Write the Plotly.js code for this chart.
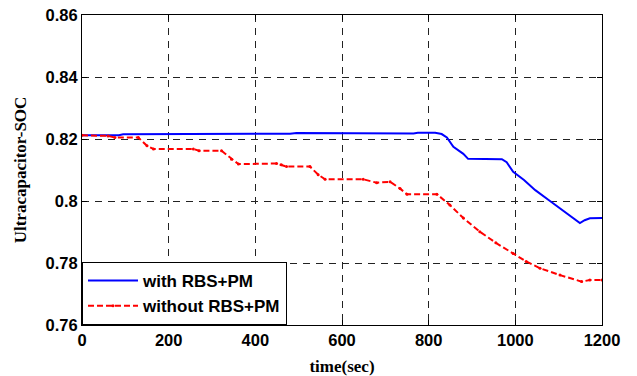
<!DOCTYPE html>
<html><head><meta charset="utf-8">
<script src="https://cdn.plot.ly/plotly-3.0.1.min.js"></script>
<style>html,body{margin:0;padding:0;background:#fff}</style>
</head><body><div id="chart" style="width:637px;height:376px"></div>
<script>
const withT   = [0, 85, 95, 180, 190, 480, 495, 525, 535, 610, 620, 720, 730, 765, 775, 815, 830, 842, 857, 880, 891, 969, 980, 995, 1020, 1046, 1080, 1115, 1149, 1160, 1172, 1200];
const withSOC = [0.8212, 0.8212, 0.8215, 0.8215, 0.8217, 0.8217, 0.8219, 0.8219, 0.8217, 0.8217, 0.8219, 0.8219, 0.8218, 0.8218, 0.8220, 0.8220, 0.8216, 0.8205, 0.8175, 0.8152, 0.8136, 0.8135, 0.8125, 0.8094, 0.8068, 0.8035, 0.8000, 0.7965, 0.7929, 0.7938, 0.7944, 0.7945];
const woT   = [0, 60, 76, 130, 150, 165, 257, 270, 322, 345, 361, 449, 460, 472, 526, 545, 561, 649, 680, 711, 734, 750, 819, 849, 880, 918, 955, 995, 1025, 1057, 1103, 1153, 1172, 1200];
const woSOC = [0.8212, 0.8210, 0.8205, 0.8205, 0.8178, 0.8168, 0.8168, 0.8162, 0.8162, 0.8135, 0.8119, 0.8121, 0.8117, 0.8111, 0.8111, 0.8085, 0.8070, 0.8070, 0.8059, 0.8062, 0.8040, 0.8022, 0.8022, 0.7987, 0.7945, 0.7901, 0.7865, 0.7831, 0.7805, 0.7783, 0.7761, 0.7740, 0.7745, 0.7745];
const xTicks = [0, 200, 400, 600, 800, 1000, 1200];
const yTicks = [0.76, 0.78, 0.8, 0.82, 0.84, 0.86];
const yTickText = ['0.76', '0.78', '0.8', '0.82', '0.84', '0.86'];

const traces = [
  {x: withT, y: withSOC, name: 'with RBS+PM', mode: 'lines', line: {color: '#0000ff', width: 2}},
  {x: woT, y: woSOC, name: 'without RBS+PM', mode: 'lines+markers', line: {color: '#ff0000', width: 2, dash: '6px,3px'}, marker: {color: '#ff0000', size: 3}}
];
const axisCommon = {
  showline: true, linecolor: '#000', linewidth: 1, mirror: 'ticks',
  ticks: 'inside', ticklen: 5, tickcolor: '#000',
  showgrid: true, gridcolor: '#222', griddash: '7px,6px', gridwidth: 1,
  zeroline: false,
  tickfont: {family: 'Liberation Sans, Arial, sans-serif', size: 16.5, color: '#000', weight: 'bold'}
};
const layout = {
  width: 637, height: 376,
  margin: {l: 82, r: 35, t: 15, b: 51},
  paper_bgcolor: '#fff', plot_bgcolor: '#fff',
  showlegend: true,
  xaxis: Object.assign({}, axisCommon, {range: [0, 1200], tickvals: xTicks,
    title: {text: 'time(sec)', standoff: 12, font: {family: 'Liberation Serif, Times New Roman, serif', size: 17, color: '#000', weight: 'bold'}}}),
  yaxis: Object.assign({}, axisCommon, {range: [0.76, 0.86], tickvals: yTicks, ticktext: yTickText,
    title: {text: 'Ultracapacitor-SOC', standoff: 14, font: {family: 'Liberation Serif, Times New Roman, serif', size: 17, color: '#000', weight: 'bold'}}}),
  legend: {x: 0, y: 0, xanchor: 'left', yanchor: 'bottom', bgcolor: '#fff', bordercolor: '#000', borderwidth: 1,
    font: {family: 'Liberation Sans, Arial, sans-serif', size: 17, color: '#000', weight: 'bold'},
    itemwidth: 50, tracegroupgap: 0}
};
Plotly.newPlot('chart', traces, layout, {displayModeBar: false, staticPlot: true});
</script></body></html>
